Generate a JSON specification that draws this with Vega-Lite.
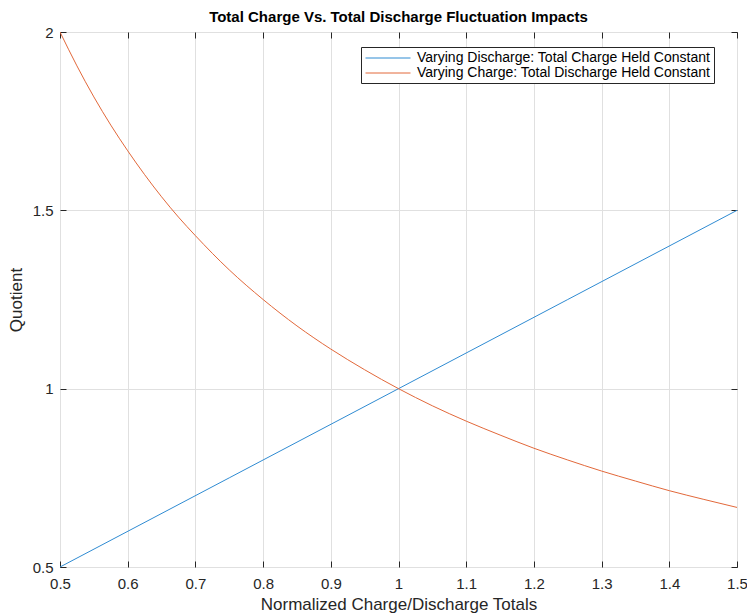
{
  "$schema": "https://vega.github.io/schema/vega-lite/v6.json",
  "width": 677,
  "height": 535,
  "autosize": {"type": "none"},
  "padding": {"left": 60, "top": 32, "right": 10, "bottom": 47},
  "background": "white",
  "config": {
    "font": "Liberation Sans",
    "view": {"stroke": "#262626", "strokeWidth": 1},
    "axis": {"labelFont": "Liberation Sans", "titleFont": "Liberation Sans", "labelColor": "#262626", "titleColor": "#262626", "domain": false, "tickColor": "#262626"}
  },
  "title": {"text": "Total Charge Vs. Total Discharge Fluctuation Impacts", "fontSize": 15, "fontWeight": "bold", "color": "#000000", "offset": 0, "anchor": "middle"},
  "data": {"values": [
    {"x": 0.5, "y": 0.5, "s": "Varying Discharge: Total Charge Held Constant"},
    {"x": 0.75, "y": 0.75, "s": "Varying Discharge: Total Charge Held Constant"},
    {"x": 1.0, "y": 1.0, "s": "Varying Discharge: Total Charge Held Constant"},
    {"x": 1.25, "y": 1.25, "s": "Varying Discharge: Total Charge Held Constant"},
    {"x": 1.5, "y": 1.5, "s": "Varying Discharge: Total Charge Held Constant"},
    {"x": 0.5, "y": 2.0, "s": "Varying Charge: Total Discharge Held Constant"},
    {"x": 0.525, "y": 1.905, "s": "Varying Charge: Total Discharge Held Constant"},
    {"x": 0.55, "y": 1.818, "s": "Varying Charge: Total Discharge Held Constant"},
    {"x": 0.575, "y": 1.739, "s": "Varying Charge: Total Discharge Held Constant"},
    {"x": 0.6, "y": 1.667, "s": "Varying Charge: Total Discharge Held Constant"},
    {"x": 0.625, "y": 1.6, "s": "Varying Charge: Total Discharge Held Constant"},
    {"x": 0.65, "y": 1.538, "s": "Varying Charge: Total Discharge Held Constant"},
    {"x": 0.675, "y": 1.481, "s": "Varying Charge: Total Discharge Held Constant"},
    {"x": 0.7, "y": 1.429, "s": "Varying Charge: Total Discharge Held Constant"},
    {"x": 0.75, "y": 1.333, "s": "Varying Charge: Total Discharge Held Constant"},
    {"x": 0.8, "y": 1.25, "s": "Varying Charge: Total Discharge Held Constant"},
    {"x": 0.85, "y": 1.176, "s": "Varying Charge: Total Discharge Held Constant"},
    {"x": 0.9, "y": 1.111, "s": "Varying Charge: Total Discharge Held Constant"},
    {"x": 0.95, "y": 1.053, "s": "Varying Charge: Total Discharge Held Constant"},
    {"x": 1.0, "y": 1.0, "s": "Varying Charge: Total Discharge Held Constant"},
    {"x": 1.05, "y": 0.952, "s": "Varying Charge: Total Discharge Held Constant"},
    {"x": 1.1, "y": 0.909, "s": "Varying Charge: Total Discharge Held Constant"},
    {"x": 1.15, "y": 0.87, "s": "Varying Charge: Total Discharge Held Constant"},
    {"x": 1.2, "y": 0.833, "s": "Varying Charge: Total Discharge Held Constant"},
    {"x": 1.25, "y": 0.8, "s": "Varying Charge: Total Discharge Held Constant"},
    {"x": 1.3, "y": 0.769, "s": "Varying Charge: Total Discharge Held Constant"},
    {"x": 1.35, "y": 0.741, "s": "Varying Charge: Total Discharge Held Constant"},
    {"x": 1.4, "y": 0.714, "s": "Varying Charge: Total Discharge Held Constant"},
    {"x": 1.45, "y": 0.69, "s": "Varying Charge: Total Discharge Held Constant"},
    {"x": 1.5, "y": 0.667, "s": "Varying Charge: Total Discharge Held Constant"}
  ]},
  "layer": [
    {
      "mark": {"type": "line", "strokeWidth": 1, "interpolate": "monotone", "clip": true},
      "encoding": {
        "x": {"field": "x", "type": "quantitative", "scale": {"domain": [0.5, 1.5], "nice": false, "zero": false},
          "axis": {"title": "Normalized Charge/Discharge Totals", "titleFontSize": 17, "titleFontWeight": "normal", "titlePadding": 5, "labelFontSize": 15, "values": [0.5,0.6,0.7,0.8,0.9,1,1.1,1.2,1.3,1.4,1.5], "format": "~g", "tickSize": -6, "labelPadding": 15, "grid": true, "gridColor": "#e0e0e0", "labelFlush": false}},
        "y": {"field": "y", "type": "quantitative", "scale": {"domain": [0.5, 2], "nice": false, "zero": false},
          "axis": {"title": "Quotient", "titleFontSize": 17, "titleFontWeight": "normal", "titlePadding": 7, "labelFontSize": 15, "values": [0.5, 1, 1.5, 2], "format": "~g", "tickSize": -6, "labelPadding": 13, "grid": true, "gridColor": "#e0e0e0", "labelFlush": false}},
        "color": {"field": "s", "type": "nominal",
          "scale": {"domain": ["Varying Discharge: Total Charge Held Constant", "Varying Charge: Total Discharge Held Constant"], "range": ["#2f8bd2", "#e2683a"]},
          "legend": {"title": null, "orient": "none", "legendX": 301, "legendY": 15, "symbolType": "M-3,0H3", "symbolSize": 225, "symbolStrokeWidth": 1, "symbolOffset": 16, "labelFontSize": 14, "labelColor": "#000000", "labelFont": "Liberation Sans", "strokeColor": "#262626", "fillColor": "white", "padding": 3, "rowPadding": 0, "labelOffset": 21, "labelLimit": 400}}
      }
    },
    {
      "mark": {"type": "point", "opacity": 0},
      "encoding": {
        "x": {"field": "x", "type": "quantitative", "scale": {"domain": [0.5, 1.5], "nice": false, "zero": false},
          "axis": {"orient": "top", "title": null, "labels": false, "values": [0.5,0.6,0.7,0.8,0.9,1,1.1,1.2,1.3,1.4,1.5], "tickSize": -6, "grid": false}},
        "y": {"field": "y", "type": "quantitative", "scale": {"domain": [0.5, 2], "nice": false, "zero": false},
          "axis": {"orient": "right", "title": null, "labels": false, "values": [0.5, 1, 1.5, 2], "tickSize": -6, "grid": false}}
      }
    }
  ],
  "resolve": {"scale": {"x": "independent", "y": "independent"}, "axis": {"x": "independent", "y": "independent"}}
}
